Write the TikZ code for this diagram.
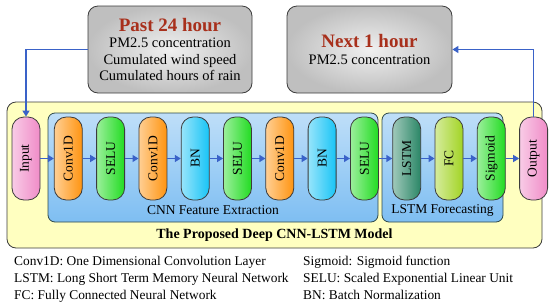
\documentclass[tikz,border=0pt]{standalone}
\usepackage{fontspec}
\setmainfont{Liberation Serif}
\usetikzlibrary{positioning, arrows.meta}

\definecolor{flowblue}{HTML}{3A62C8}
\definecolor{titlered}{HTML}{A8301C}
\definecolor{modelyellow}{HTML}{FFFFC0}
\definecolor{cnnblue}{HTML}{7EBEF2}
\definecolor{ioPink}{HTML}{F08CC8}
\definecolor{convorange}{HTML}{FF9410}
\definecolor{selugreen}{HTML}{22DC22}
\definecolor{bncyan}{HTML}{18C4F6}
\definecolor{lstmteal}{HTML}{2A8666}
\definecolor{fcgreen}{HTML}{A2D424}
\definecolor{edgegray}{HTML}{3C3C3C}

\newcommand{\vlabel}[1]{\rotatebox{90}{#1}}
\newcommand{\hdtext}[1]{{\fontsize{19}{21}\selectfont\bfseries\color{titlered}#1}}

\tikzset{
  layer/.style={draw=edgegray, thick, rounded corners=12pt, minimum width=28pt,
    minimum height=83pt, inner sep=0pt, left color=#1!45!white, right color=#1,
    font=\fontsize{13.5}{15}\selectfont},
  infobox/.style={draw=edgegray, thick, rounded corners=10pt, minimum height=87pt,
    inner color=gray!12, outer color=gray!50, align=center,
    font=\fontsize{14.5}{16.5}\selectfont},
  groupbox/.style={draw=edgegray!80!teal, thick, rounded corners=7pt, minimum height=109pt,
    top color=cnnblue!50!white, bottom color=cnnblue},
  flow/.style={draw=flowblue, line width=1.4pt, -{Triangle[width=7pt,length=6pt]}},
}

\begin{document}
\begin{tikzpicture}[x=1pt, y=1pt, node distance=13.5pt]
    \useasboundingbox (0,0) rectangle (550,-306);

    % input / output information
    \node[infobox, minimum width=164pt] (past) at (170,-49.5)
        {\hdtext{Past 24 hour}\\PM2.5 concentration\\Cumulated wind speed\\Cumulated hours of rain};
    \node[infobox, minimum width=165pt] (next) at (369.5,-49.5)
        {\hdtext{Next 1 hour}\\PM2.5 concentration};

    % model frames
    \node[draw=edgegray, thick, rounded corners=9pt, fill=modelyellow,
          minimum width=535pt, minimum height=146pt] (model) at (274.5,-175) {};
    \node[groupbox, minimum width=330pt] (cnn) at (213,-167.5) {};
    \node[groupbox, minimum width=121pt] (lstmgrp) at (442.5,-167.5) {};

    % layers
    \node[layer=ioPink] (in) at (26,-158.5) {\vlabel{Input}};
    \node[layer=convorange, right=of in] (c1) {\vlabel{Conv1D}};
    \node[layer=selugreen, right=of c1] (s1) {\vlabel{SELU}};
    \node[layer=convorange, right=of s1] (c2) {\vlabel{Conv1D}};
    \node[layer=bncyan, right=of c2] (b1) {\vlabel{BN}};
    \node[layer=selugreen, right=of b1] (s2) {\vlabel{SELU}};
    \node[layer=convorange, right=of s2] (c3) {\vlabel{Conv1D}};
    \node[layer=bncyan, right=of c3] (b2) {\vlabel{BN}};
    \node[layer=selugreen, right=of b2] (s3) {\vlabel{SELU}};
    \node[layer=lstmteal, right=of s3] (lstm) {\vlabel{LSTM}};
    \node[layer=fcgreen, right=of lstm] (fc) {\vlabel{FC}};
    \node[layer=selugreen, right=of fc] (sig) {\vlabel{Sigmoid}};
    \node[layer=ioPink, right=of sig] (out) {\vlabel{Output}};

    \foreach \a/\b in {in/c1, c1/s1, s1/c2, c2/b1, b1/s2, s2/c3, c3/b2, b2/s3,
                       s3/lstm, lstm/fc, fc/sig, sig/out}
        \draw[flow] (\a) -- (\b);

    \draw[flow] (past.west) -| (in.north);
    \draw[flow] (out.north) |- (next.east);

    % group labels
    \node[font=\fontsize{13.5}{15}\selectfont] (cnnlbl) at (213,-210) {CNN Feature Extraction};
    \node[font=\fontsize{13.5}{15}\selectfont] (lstmlbl) at (442.5,-210) {LSTM Forecasting};
    \node[font=\fontsize{14}{16}\selectfont\bfseries] (title) at (274.5,-235)
        {The Proposed Deep CNN-LSTM Model};

    % legend
    \node[anchor=north west, align=left, inner sep=0pt, font=\fontsize{13.4}{17}\selectfont] (legl) at (14,-256)
        {Conv1D: One Dimensional Convolution Layer\\LSTM: Long Short Term Memory Neural Network\\FC: Fully Connected Neural Network};
    \node[anchor=north west, align=left, inner sep=0pt, font=\fontsize{13.4}{17}\selectfont] (legr) at (303,-256)
        {Sigmoid: Sigmoid function\\SELU: Scaled Exponential Linear Unit\\BN: Batch Normalization};
\end{tikzpicture}
\end{document}
